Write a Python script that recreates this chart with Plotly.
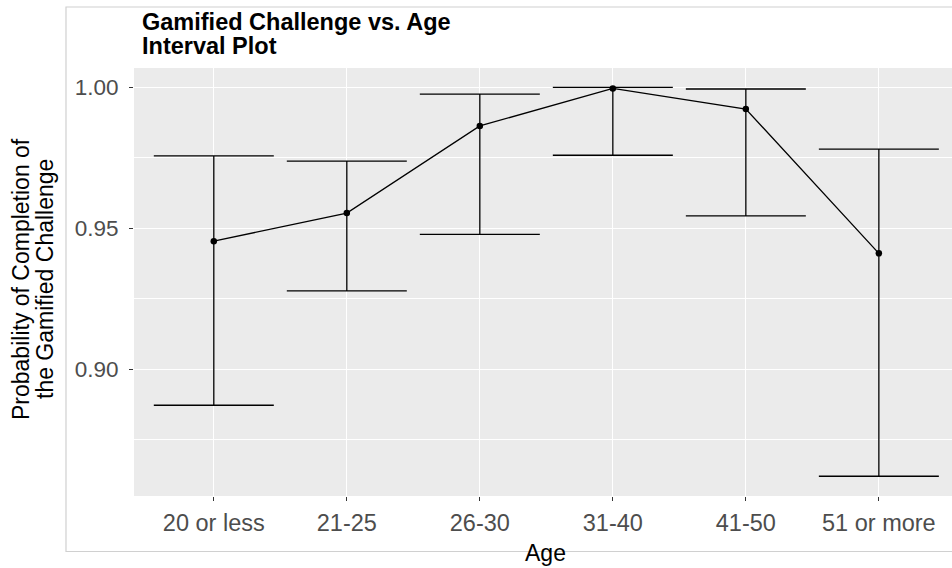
import plotly.graph_objects as go

# ---- data ----
age_groups = ["20 or less", "21-25", "26-30", "31-40", "41-50", "51 or more"]
prob_mean = [0.9454, 0.9554, 0.9863, 0.9996, 0.9923, 0.9411]
prob_upper = [0.9757, 0.9738, 0.9976, 1.0000, 0.9994, 0.9781]
prob_lower = [0.8872, 0.9278, 0.9478, 0.9759, 0.9544, 0.8620]
y_tick_vals = [0.90, 0.95, 1.00]
y_tick_text = ["0.90", "0.95", "1.00"]
y_minor_vals = [0.875, 0.925, 0.975]

err_plus = [u - m for u, m in zip(prob_upper, prob_mean)]
err_minus = [m - l for m, l in zip(prob_mean, prob_lower)]

FONT = "Liberation Sans, Arial, Helvetica, sans-serif"

W, H = 952, 568
ML, MR, MT, MB = 134, 0, 68, 72
PW = W - ML - MR
PH = H - MT - MB


def px_x(x):
    return (x - ML) / PW


def px_y(y):
    return (H - MB - y) / PH


fig = go.Figure()
fig.add_trace(go.Scatter(
    x=age_groups,
    y=prob_mean,
    mode="lines+markers",
    line=dict(color="black", width=1.3),
    marker=dict(color="black", size=6.5),
    error_y=dict(
        type="data",
        symmetric=False,
        array=err_plus,
        arrayminus=err_minus,
        color="black",
        thickness=1.3,
        width=60,
    ),
    showlegend=False,
    hoverinfo="x+y",
))

fig.update_layout(
    width=W,
    height=H,
    margin=dict(l=ML, r=MR, t=MT, b=MB),
    paper_bgcolor="white",
    plot_bgcolor="#EBEBEB",
    font=dict(family=FONT, color="black"),
    xaxis=dict(
        type="category",
        range=[-0.6, 5.55],
        showgrid=True,
        gridcolor="white",
        gridwidth=1.3,
        zeroline=False,
        showline=False,
        ticks="outside",
        ticklen=4,
        tickwidth=1.1,
        tickcolor="#333333",
        tickfont=dict(family=FONT, size=23.5, color="#4D4D4D"),
        ticklabelstandoff=2,
    ),
    yaxis=dict(
        range=[0.855, 1.00685],
        tickmode="array",
        tickvals=y_tick_vals,
        ticktext=y_tick_text,
        showgrid=True,
        gridcolor="white",
        gridwidth=1.3,
        zeroline=False,
        showline=False,
        ticks="outside",
        ticklen=4,
        tickwidth=1.1,
        tickcolor="#333333",
        tickfont=dict(family=FONT, size=22.5, color="#4D4D4D"),
        ticklabelstandoff=6,
        minor=dict(
            tickmode="array",
            tickvals=y_minor_vals,
            showgrid=True,
            gridcolor="white",
            gridwidth=0.6,
            ticks="",
        ),
    ),
    shapes=[
        dict(
            type="rect", xref="paper", yref="paper",
            x0=px_x(66), x1=1.05, y0=px_y(551.5), y1=px_y(7),
            line=dict(color="#D0D0D0", width=1.2),
            fillcolor="rgba(0,0,0,0)",
            layer="below",
        )
    ],
    annotations=[
        dict(text="<b>Gamified Challenge vs. Age</b>", xref="paper", yref="paper",
             x=px_x(140), y=px_y(22), xanchor="left", yanchor="middle",
             showarrow=False, font=dict(family=FONT, size=23.5, color="black")),
        dict(text="<b>Interval Plot</b>", xref="paper", yref="paper",
             x=px_x(140), y=px_y(45.5), xanchor="left", yanchor="middle",
             showarrow=False, font=dict(family=FONT, size=23.5, color="black")),
        dict(text="Age", xref="paper", yref="paper",
             x=px_x(545.5), y=px_y(553), xanchor="center", yanchor="middle",
             showarrow=False, font=dict(family=FONT, size=23, color="black")),
        dict(text="Probability of Completion of", xref="paper", yref="paper",
             x=px_x(21), y=px_y(279), xanchor="center", yanchor="middle",
             textangle=-90, showarrow=False,
             font=dict(family=FONT, size=23, color="black")),
        dict(text="the Gamified Challenge", xref="paper", yref="paper",
             x=px_x(45), y=px_y(279), xanchor="center", yanchor="middle",
             textangle=-90, showarrow=False,
             font=dict(family=FONT, size=23, color="black")),
    ],
)

fig.write_html("out.html", config={"displayModeBar": False},
               post_script="document.body.style.margin='0';")
